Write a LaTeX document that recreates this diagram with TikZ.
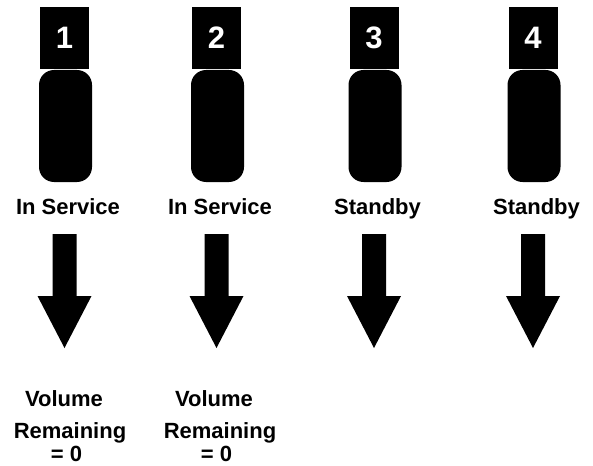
\documentclass[tikz,border=0pt]{standalone}
\usepackage{fontspec}
\setmainfont{Liberation Sans}
\begin{document}
\begin{tikzpicture}[x=1pt,y=-1pt,
  numbox/.style={fill=black,text=white,minimum width=49pt,minimum height=62pt,
    inner sep=0pt,font=\bfseries\fontsize{31}{31}\selectfont},
  cell/.style={fill=black,rounded corners=15pt,minimum width=53pt,
    minimum height=112pt,inner sep=0pt},
  lbl/.style={font=\bfseries\fontsize{22}{26}\selectfont,inner sep=0pt,anchor=base},
  bigarrow/.style={fill=black},
]
\useasboundingbox (0,0) rectangle (593,465);

% one column per unit: number tag, unit body, state label, down arrow
\foreach \i/\x/\s in {1/65.5/In Service,2/217.5/In Service,3/375/Standby,4/534/Standby}{
  \node[numbox] (num\i) at (\x-1,38) {\i};
  \node[cell] (cell\i) at (\x,126) {};
  \node[lbl] (state\i) at (\x+2.5,214) {\s};
  \coordinate (tip\i) at (\x-1,348);
  \fill[bigarrow] ([xshift=-12pt,yshift=114pt]tip\i) -- ([xshift=12pt,yshift=114pt]tip\i)
    -- ([xshift=12pt,yshift=52pt]tip\i) -- ([xshift=27pt,yshift=52pt]tip\i)
    -- (tip\i) -- ([xshift=-27pt,yshift=52pt]tip\i)
    -- ([xshift=-12pt,yshift=52pt]tip\i) -- cycle;
}

% remaining volume notes under the units in service
\foreach \i/\x in {1/66.5,2/216.5}{
  \node[lbl] (vola\i) at (\x-2.5,406) {Volume};
  \node[lbl] (volb\i) at (\x+3.5,438) {Remaining};
  \node[lbl] (volc\i) at (\x,461.5) {= 0};
}
\end{tikzpicture}
\end{document}
